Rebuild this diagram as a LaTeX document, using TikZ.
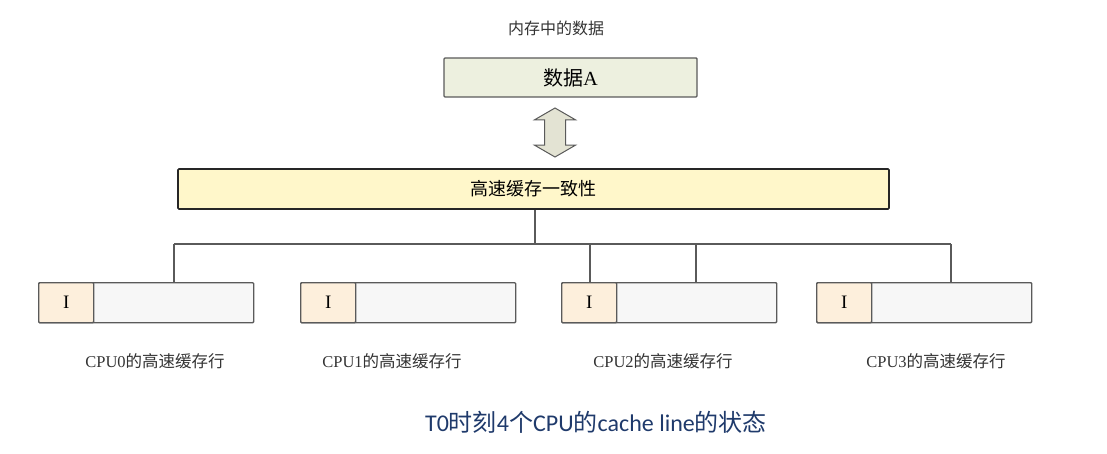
\documentclass[tikz,border=0pt]{standalone}
\usepackage{fontspec}
\setmainfont{Liberation Serif}
\newfontfamily\cjk{Noto Sans CJK SC}
\newfontfamily\capfont{Carlito}
\usetikzlibrary{shapes.arrows}
\definecolor{memfill}{HTML}{EDF0DF}
\definecolor{cachefill}{HTML}{FFF7CA}
\definecolor{statefill}{HTML}{FDEFDC}
\definecolor{linefill}{HTML}{F7F7F7}
\definecolor{arrowfill}{HTML}{E3E3D3}
\definecolor{boxline}{HTML}{5A5A5A}
\definecolor{capblue}{HTML}{1F3A6B}

\begin{document}
\begin{tikzpicture}[x=1pt, y=-1pt,
    box/.style={draw=boxline, line width=1.4pt, inner sep=0pt, rounded corners=1pt},
    wire/.style={draw=boxline, line width=1.4pt},
    txt/.style={text=black!80, font=\fontsize{16.5}{19}\selectfont}]
\useasboundingbox (0,0) rectangle (1107,454);

\node[txt, font=\fontsize{16}{19}\selectfont\cjk] (title) at (556,28) {内存中的数据};
\node[box, fill=memfill, minimum width=253pt, minimum height=39pt,
      font=\fontsize{20}{24}\selectfont] (mem) at (570.5,77.5) {{\cjk 数据}A};
\node[draw=boxline, line width=1pt, fill=arrowfill, double arrow, rotate=90,
      minimum height=49pt, inner sep=10pt, double arrow head extend=10pt,
      double arrow tip angle=120] (arr) at (555,132.5) {};
\node[box, draw=black!85, line width=1.6pt, fill=cachefill, minimum width=711pt, minimum height=40pt,
      font=\fontsize{18}{22}\selectfont\cjk] (cache) at (533.5,189) {高速缓存一致性};

% cache lines of the four CPUs
\foreach \x/\lx [count=\i from 0] in {38/155, 300/392, 561/663, 816/936}
{
  \node[box, fill=linefill, minimum width=215pt, minimum height=40pt, anchor=north west]
        (c\i) at (\x,282) {};
  \node[box, fill=statefill, minimum width=55pt, minimum height=40pt, anchor=north west,
        font=\fontsize{19}{22}\selectfont] (s\i) at (\x,282) {I};
  \node[txt] (l\i) at (\lx,361) {CPU\i{\cjk 的高速缓存行}};
}

\coordinate (busL) at (174,244);
\coordinate (busR) at (951,244);
\draw[wire] (busL) -- (busR);
\draw[wire] ([xshift=1.5pt]cache.south) -- ([xshift=1.5pt]cache.south |- busL);
\draw[wire] (busL) -- (busL |- c0.north);
\draw[wire] (590,244) -- (590,282);
\draw[wire] (696,244) -- (696,282);
\draw[wire] (busR) -- (busR |- c3.north);

\node[text=capblue, font=\fontsize{24}{28}\selectfont\capfont] (cap) at (596,422)
      {T0{\cjk 时刻}4{\cjk 个}CPU{\cjk 的}cache line{\cjk 的状态}};
\end{tikzpicture}
\end{document}
